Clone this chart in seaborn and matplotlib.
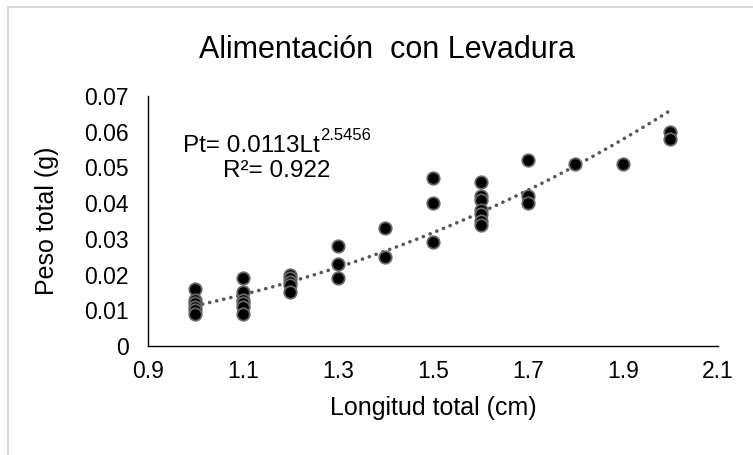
import matplotlib
matplotlib.use("Agg")
import matplotlib.pyplot as plt
from matplotlib.lines import Line2D
import numpy as np
import pandas as pd
import seaborn as sns

# Data
lengths_1_0 = [0.016, 0.013, 0.012, 0.011, 0.010, 0.009]
lengths_1_1 = [0.019, 0.015, 0.013, 0.012, 0.011, 0.009]
lengths_1_2 = [0.020, 0.019, 0.018, 0.017, 0.015]
lengths_1_3 = [0.028, 0.023, 0.019]
lengths_1_4 = [0.033, 0.025]
lengths_1_5 = [0.047, 0.040, 0.029]
lengths_1_6 = [0.046, 0.042, 0.041, 0.038, 0.037, 0.035, 0.034]
lengths_1_7 = [0.052, 0.042, 0.040]
lengths_1_8 = [0.051]
lengths_1_9 = [0.051]
lengths_2_0 = [0.060, 0.058]

length_values = [1.0, 1.1, 1.2, 1.3, 1.4, 1.5, 1.6, 1.7, 1.8, 1.9, 2.0]
weight_groups = [lengths_1_0, lengths_1_1, lengths_1_2, lengths_1_3, lengths_1_4,
                 lengths_1_5, lengths_1_6, lengths_1_7, lengths_1_8, lengths_1_9,
                 lengths_2_0]

fit_a = 0.0113
fit_b = 2.5456
fit_r2 = 0.922

x_ticks = [0.9, 1.1, 1.3, 1.5, 1.7, 1.9, 2.1]
y_ticks = [0, 0.01, 0.02, 0.03, 0.04, 0.05, 0.06, 0.07]
y_tick_labels = ["0", "0.01", "0.02", "0.03", "0.04", "0.05", "0.06", "0.07"]

rows = []
for lt, ws in zip(length_values, weight_groups):
    for w in ws:
        rows.append((lt, w))
df = pd.DataFrame(rows, columns=["Longitud", "Peso"])

sns.set_style("white")
plt.rcParams["font.family"] = ["Liberation Sans", "DejaVu Sans"]

W, H = 753, 455
fig = plt.figure(figsize=(W / 100, H / 100), dpi=100)
ax = fig.add_axes([148 / W, (H - 346) / H, (718 - 148) / W, (346 - 96) / H])

# trend line
xf = np.linspace(1.0, 2.0, 200)
yf = fit_a * xf ** fit_b
ax.plot(xf, yf, color="#595959", lw=2.6, linestyle=(0, (0.05, 1.95)),
        dash_capstyle="round", zorder=2)

sns.scatterplot(data=df, x="Longitud", y="Peso", ax=ax, s=80, color="black",
                edgecolor="#666666", linewidth=1.3, zorder=3, legend=False)

ax.set_xlim(0.9, 2.1)
ax.set_ylim(0, 0.07)
ax.set_xticks(x_ticks)
ax.set_xticklabels([f"{v:.1f}" for v in x_ticks])
ax.set_yticks(y_ticks)
ax.set_yticklabels(y_tick_labels)
ax.tick_params(axis="both", direction="out", length=4.3, width=1, color="black",
               labelsize=16.5, labelcolor="black")
ax.tick_params(axis="y", pad=9.6)
ax.tick_params(axis="x", pad=5.8)

for side in ["top", "right"]:
    ax.spines[side].set_visible(False)
for side in ["left", "bottom"]:
    ax.spines[side].set_color("black")
    ax.spines[side].set_linewidth(1.0)

ax.set_xlabel("Longitud total (cm)", fontsize=18, labelpad=9.5, color="black")
ax.set_ylabel("Peso total (g)", fontsize=18, labelpad=18, color="black")

fig.text(386.7 / W, (H - 58) / H, "Alimentación  con Levadura", fontsize=22,
         ha="center", va="baseline", color="black")

t1 = fig.text(183 / W, (H - 151.7) / H, "Pt= 0.0113Lt", fontsize=17.5,
              ha="left", va="baseline", color="black")
ax.annotate("2.5456", xy=(1.0, 0.62), xycoords=t1, fontsize=12,
            ha="left", va="bottom", color="black")
fig.text(223 / W, (H - 176.7) / H, "R²= 0.922", fontsize=17.5,
         ha="left", va="baseline", color="black")

# light border around chart area (left and top edges visible)
fig.add_artist(Line2D([8 / W, 8 / W], [0, (H - 7) / H], color="#d9d9d9", lw=1.5,
                      transform=fig.transFigure))
fig.add_artist(Line2D([8 / W, 1], [(H - 7) / H, (H - 7) / H], color="#d9d9d9", lw=1.5,
                      transform=fig.transFigure))

fig.savefig("out.png", dpi=100)
